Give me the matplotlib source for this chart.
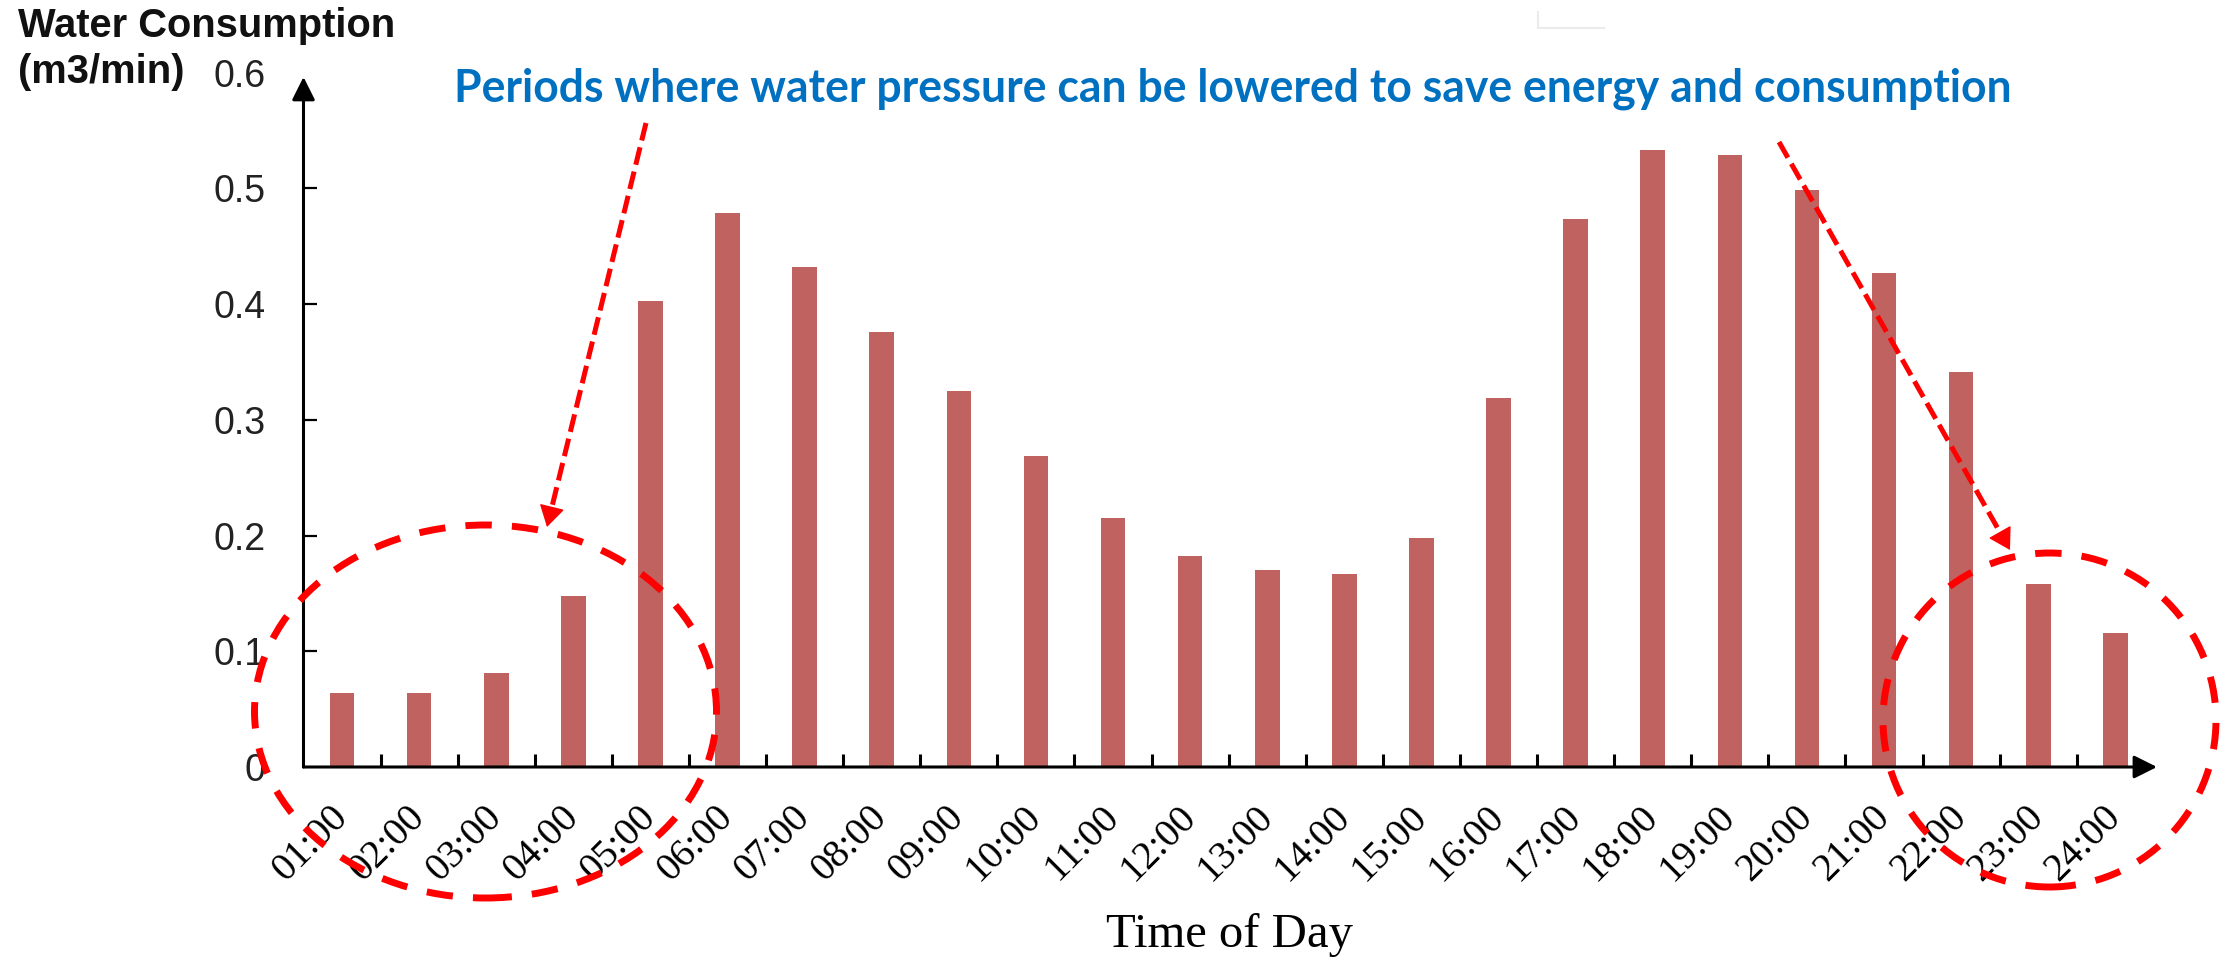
import matplotlib
matplotlib.use('Agg')
import matplotlib.pyplot as plt
from matplotlib.patches import Ellipse
from matplotlib.lines import Line2D
import numpy as np

hours = ['01:00', '02:00', '03:00', '04:00', '05:00', '06:00', '07:00', '08:00',
         '09:00', '10:00', '11:00', '12:00', '13:00', '14:00', '15:00', '16:00',
         '17:00', '18:00', '19:00', '20:00', '21:00', '22:00', '23:00', '24:00']
consumption = [0.064, 0.064, 0.081, 0.148, 0.403, 0.479, 0.432, 0.376,
               0.325, 0.269, 0.215, 0.182, 0.170, 0.167, 0.198, 0.319,
               0.474, 0.533, 0.529, 0.499, 0.427, 0.341, 0.158, 0.116]
yticks = [0, 0.1, 0.2, 0.3, 0.4, 0.5, 0.6]
ytick_labels = ['0', '0.1', '0.2', '0.3', '0.4', '0.5', '0.6']

title_text = 'Periods where water pressure can be lowered to save energy and consumption'
ylabel_1 = 'Water Consumption'
ylabel_2 = '(m3/min)'
xlabel = 'Time of Day'

W, H = 2224, 957
fig = plt.figure(figsize=(W / 100, H / 100), dpi=100)
fig.patch.set_facecolor('white')


def fx(px):
    return px / W


def fy(py):
    return 1 - py / H


ax = fig.add_axes([303.5 / W, 1 - 767 / H, (2161.6 - 303.5) / W, 694.2 / H])
x = np.arange(len(hours))
ax.bar(x, consumption, width=0.32, color='#C0625F', zorder=2)
ax.set_xlim(-0.5, 23.6)
ax.set_ylim(0, 0.6)
for s in ax.spines.values():
    s.set_visible(False)

ax.set_xticks(x)
ax.set_xticklabels(hours, fontfamily='Liberation Serif', fontsize=28.5, rotation=45,
                   ha='right', va='center', rotation_mode='anchor')
ax.tick_params(axis='x', which='major', length=0, pad=32)
ax.set_xticks(np.arange(0.5, 23, 1), minor=True)
ax.tick_params(axis='x', which='minor', direction='in', length=9.4, width=2.2, color='black')

ax.set_yticks(yticks)
ax.set_yticklabels(ytick_labels, fontfamily='Liberation Sans', fontsize=27, color='#222222')
ax.tick_params(axis='y', direction='in', length=9.4, width=1.6, pad=27.4)
ax.yaxis.get_major_ticks()[-1].tick1line.set_visible(False)
ax.yaxis.get_major_ticks()[0].tick1line.set_visible(False)

# axis lines with arrows
arrow_kw = dict(arrowstyle='-|>,head_length=0.7,head_width=0.35', lw=2.2, color='black',
                shrinkA=0, shrinkB=0, mutation_scale=20)
ax.annotate('', xy=(-0.5, 0.5964), xytext=(-0.5, 0), xycoords='data',
            arrowprops=arrow_kw, annotation_clip=False)
ax.annotate('', xy=(23.54, 0), xytext=(-0.5, 0), xycoords='data',
            arrowprops=arrow_kw, annotation_clip=False)

# texts
fig.canvas.draw()
renderer = fig.canvas.get_renderer()


def fit_text(xp, yp, s, target_w, **kw):
    t = fig.text(fx(xp), fy(yp), s, **kw)
    fs = t.get_fontsize()
    w = t.get_window_extent(renderer).width
    t.set_fontsize(fs * target_w / w)
    return t


fit_text(454, 102, title_text, 1560, fontfamily='Lato', fontweight='bold', fontsize=28,
         color='#0070C0', ha='left', va='baseline')
t1 = fit_text(18, 37, ylabel_1, 377, fontfamily='Liberation Sans', fontweight='bold',
              fontsize=26, color='#111111', ha='left', va='baseline')
fig.text(fx(18), fy(83), ylabel_2, fontfamily='Liberation Sans', fontweight='bold',
         fontsize=t1.get_fontsize(), color='#111111', ha='left', va='baseline')
fig.text(fx(1230), fy(947), xlabel, fontfamily='Liberation Serif', fontsize=35,
         color='black', ha='center', va='baseline')

# red dashed ellipses
for cx, cy, ew, eh in [(485.5, 711.5, 462, 373), (2049.5, 720, 333, 334)]:
    e = Ellipse((fx(cx), fy(cy)), ew / W, eh / H, transform=fig.transFigure,
                fill=False, edgecolor='#FF0000', lw=5, linestyle=(0, (3.8, 2.9)), zorder=5)
    fig.add_artist(e)


# red dashed arrows
def dashed_arrow(x0, y0, x1, y1):
    d = np.array([x1 - x0, y1 - y0], dtype=float)
    L = np.hypot(*d)
    u = d / L
    xe, ye = x1 - 12 * u[0], y1 - 12 * u[1]
    ln = Line2D([fx(x0), fx(xe)], [fy(y0), fy(ye)], transform=fig.transFigure,
                color='#FF0000', lw=3.6, dashes=(3.6, 1.4), zorder=6)
    fig.add_artist(ln)
    xs, ys = x1 - 16 * u[0], y1 - 16 * u[1]
    fig.add_artist(matplotlib.patches.FancyArrowPatch(
        (fx(xs), fy(ys)), (fx(x1), fy(y1)), transform=fig.transFigure,
        arrowstyle='-|>,head_length=0.75,head_width=0.45', mutation_scale=18,
        color='#FF0000', lw=1, shrinkA=0, shrinkB=0, zorder=6))


dashed_arrow(646, 123, 547, 527)
dashed_arrow(1779, 142, 2010, 550)

# faint artifact at top
fig.add_artist(Line2D([fx(1538), fx(1538), fx(1604)], [fy(12), fy(28), fy(28)],
                      transform=fig.transFigure, color='#ebebeb', lw=1.5))

fig.savefig('out.png', dpi=100, facecolor='white')
